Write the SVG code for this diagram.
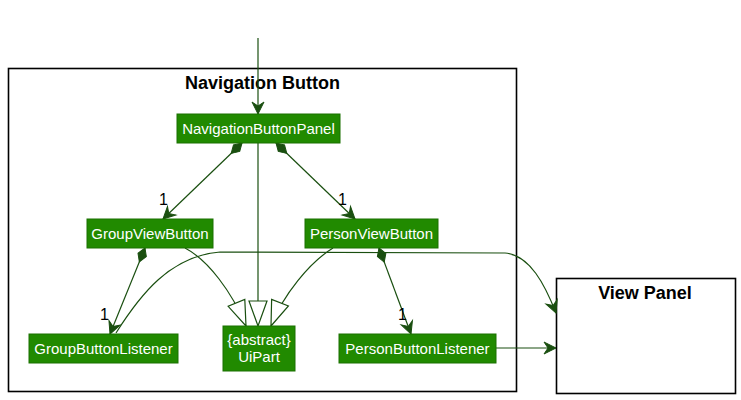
<svg xmlns="http://www.w3.org/2000/svg" width="741" height="400" viewBox="0 0 741 400">
<style>
.pkg{fill:#ffffff;stroke:#000;stroke-width:1.6}
.ptitle{font-family:"Liberation Sans",Arial,sans-serif;font-weight:bold;font-size:18px;fill:#000;text-anchor:middle}
.node rect{fill:#218a00;stroke:#1b7000;stroke-width:1}
.node text{font-family:"Liberation Sans",Arial,sans-serif;font-size:15px;fill:#fff;text-anchor:middle}
.e{fill:none;stroke:#1a4f10;stroke-width:1.2}
.lbl{font-family:"Liberation Sans",Arial,sans-serif;font-size:16px;fill:#000}
</style>
<defs>
<marker id="arr" markerUnits="userSpaceOnUse" viewBox="-14 -8 16 16" markerWidth="16" markerHeight="16" refX="0" refY="0" orient="auto">
<path d="M0,0 L-12,-6 L-8,0 L-12,6 Z" fill="#1a4f10" stroke="#1a4f10" stroke-width="1"/>
</marker>
<marker id="tri" markerUnits="userSpaceOnUse" viewBox="-27 -11 29 22" markerWidth="29" markerHeight="22" refX="0" refY="0" orient="auto">
<path d="M0,0 L-25,-9 L-25,9 Z" fill="#fff" stroke="#1a4f10" stroke-width="1.2"/>
</marker>
<marker id="dia" markerUnits="userSpaceOnUse" viewBox="-2 -7 19 14" markerWidth="19" markerHeight="14" refX="0" refY="0" orient="auto">
<path d="M0,0 L7.5,-4.5 L15,0 L7.5,4.5 Z" fill="#1a4f10" stroke="#1a4f10" stroke-width="1"/>
</marker>
</defs>
<rect width="741" height="400" fill="#fff"/>
<g id="pkg-navigation-button">
<rect class="pkg" x="8.5" y="68.5" width="508" height="323"/>
<text class="ptitle" x="262.5" y="89">Navigation Button</text>
</g>
<g id="pkg-view-panel">
<rect class="pkg" x="556.5" y="278.5" width="179" height="115"/>
<text class="ptitle" x="645" y="299">View Panel</text>
</g>
<g id="connectors">
<path class="e" d="M258,38 L258,114" marker-end="url(#arr)"/>
<path class="e" d="M242,143 L163,219" marker-start="url(#dia)" marker-end="url(#arr)"/>
<path class="e" d="M276,143 L355,219" marker-start="url(#dia)" marker-end="url(#arr)"/>
<path class="e" d="M258,143 L258,326" marker-end="url(#tri)"/>
<path class="e" d="M185,248 C208,260 232,292 246,326" marker-end="url(#tri)"/>
<path class="e" d="M333,248 C310,262 283,295 271,326" marker-end="url(#tri)"/>
<path class="e" d="M145,248 L110,334" marker-start="url(#dia)" marker-end="url(#arr)"/>
<path class="e" d="M379,248 L411,334" marker-start="url(#dia)" marker-end="url(#arr)"/>
<path class="e" d="M116,333 C140,295 170,256 220,252 L505,253 C530,255 545,285 556,313" marker-end="url(#arr)"/>
<path class="e" d="M496,348 L556,348" marker-end="url(#arr)"/>
<text class="lbl" x="159" y="205">1</text>
<text class="lbl" x="338" y="205">1</text>
<text class="lbl" x="100" y="320">1</text>
<text class="lbl" x="398" y="320">1</text>
</g>
<g id="NavigationButtonPanel" class="node">
<rect x="177" y="114" width="163" height="29"/>
<text x="258.5" y="134">NavigationButtonPanel</text>
</g>
<g id="GroupViewButton" class="node">
<rect x="87" y="219" width="126" height="29"/>
<text x="150" y="239">GroupViewButton</text>
</g>
<g id="PersonViewButton" class="node">
<rect x="305" y="219" width="133" height="29"/>
<text x="371.5" y="239">PersonViewButton</text>
</g>
<g id="GroupButtonListener" class="node">
<rect x="29" y="334" width="149" height="29"/>
<text x="103.5" y="354">GroupButtonListener</text>
</g>
<g id="UiPart" class="node">
<rect x="223" y="326" width="72" height="45"/>
<text x="259" y="345">{abstract}</text>
<text x="259" y="362">UiPart</text>
</g>
<g id="PersonButtonListener" class="node">
<rect x="339" y="334" width="157" height="29"/>
<text x="417.5" y="354">PersonButtonListener</text>
</g>
</svg>
